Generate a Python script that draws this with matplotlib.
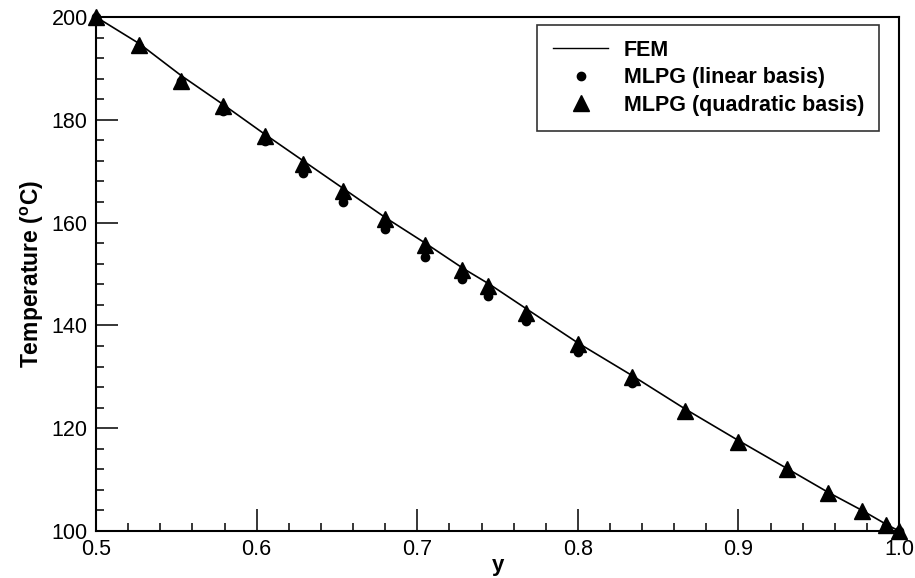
import matplotlib.pyplot as plt
from matplotlib.ticker import MultipleLocator

plt.rcParams['font.family'] = ['Liberation Sans', 'DejaVu Sans']
plt.rcParams['mathtext.fontset'] = 'custom'
plt.rcParams['mathtext.rm'] = 'Liberation Sans'
plt.rcParams['mathtext.bf'] = 'Liberation Sans:bold'

# ── Data ──────────────────────────────────────────────────────────────────────
y_fem = [0.5, 0.527, 0.553, 0.579, 0.605, 0.63, 0.655, 0.68, 0.705, 0.729,
         0.745, 0.77, 0.8, 0.834, 0.867, 0.9, 0.93, 0.956, 0.977, 0.992, 1.0]
T_fem = [200.0, 194.8, 188.6, 183.0, 177.2, 171.8, 166.4, 161.0, 156.0, 151.0,
         148.0, 142.8, 136.6, 130.2, 123.7, 117.6, 112.2, 107.5, 104.0, 101.3, 100.0]

y_pts = [0.5, 0.527, 0.553, 0.579, 0.605, 0.629, 0.654, 0.68, 0.705, 0.728,
         0.744, 0.768, 0.8, 0.834, 0.867, 0.9, 0.93, 0.956, 0.977, 0.992, 1.0]
T_lin = [200.0, 194.2, 187.5, 181.8, 175.9, 169.7, 164.1, 158.7, 153.4, 149.0,
         145.7, 140.9, 134.8, 128.8, 122.7, 116.8, 111.6, 107.1, 103.5, 101.0, 100.0]
T_quad = [200.0, 194.6, 187.6, 182.7, 176.9, 171.4, 166.1, 160.7, 155.7, 150.7,
          147.7, 142.5, 136.3, 130.0, 123.4, 117.4, 112.0, 107.3, 103.8, 101.2, 100.0]

# ── Plot ──────────────────────────────────────────────────────────────────────
fig = plt.figure(figsize=(9.15, 5.78), dpi=100)
ax = fig.add_axes([0.105, 0.0813, 0.8776, 0.8893])

ax.plot(y_fem, T_fem, '-', color='black', lw=1.2, label='FEM')
ax.plot(y_pts, T_lin, 'o', color='black', ms=6, label='MLPG (linear basis)',
        clip_on=False)
ax.plot(y_pts, T_quad, '^', color='black', ms=11, label='MLPG (quadratic basis)',
        clip_on=False)

ax.set_xlim(0.5, 1.0)
ax.set_ylim(100, 200)
ax.xaxis.set_major_locator(MultipleLocator(0.1))
ax.xaxis.set_minor_locator(MultipleLocator(0.02))
ax.yaxis.set_major_locator(MultipleLocator(20))
ax.yaxis.set_minor_locator(MultipleLocator(4))
ax.tick_params(which='both', direction='in', top=False, right=False,
               labelsize=15.5, width=1.1)
ax.tick_params(which='major', length=16)
ax.tick_params(which='minor', length=6)
ax.tick_params(axis='x', which='both', pad=6)
ax.tick_params(axis='y', which='both', pad=6)
for s in ax.spines.values():
    s.set_linewidth(1.5)

ax.set_xlabel('y', fontsize=16, fontweight='bold', labelpad=-4)
ax.set_ylabel(r'Temperature ($^{\mathbf{o}}$C)', fontsize=16.5,
              fontweight='bold', labelpad=4)

leg = ax.legend(loc='upper right', prop={'weight': 'bold', 'size': 15.5},
                frameon=True, fancybox=False, edgecolor='black',
                borderpad=0.7, handlelength=2.6, handletextpad=0.7,
                labelspacing=0.3, borderaxespad=0,
                bbox_to_anchor=(0.975, 0.985))
leg.get_frame().set_linewidth(1.2)
leg.legend_handles[0].set_linewidth(1.0)

fig.savefig('out.png', dpi=100)
